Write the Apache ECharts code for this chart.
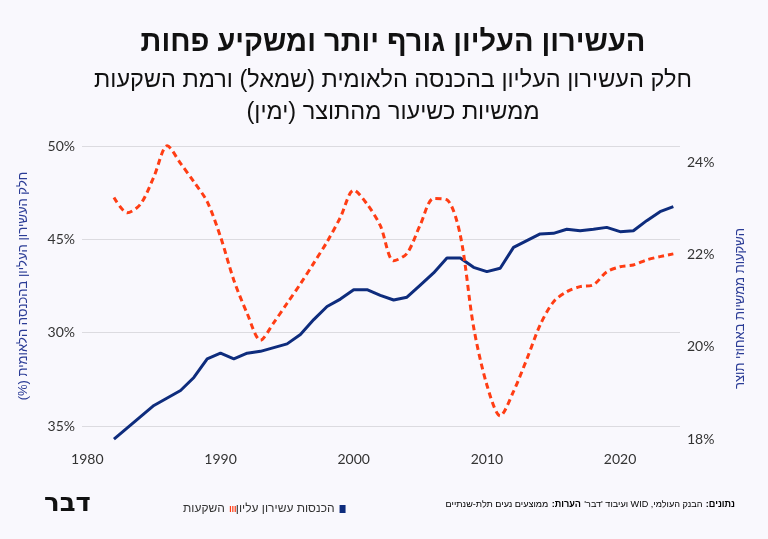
<!DOCTYPE html>
<html>
<head>
<meta charset="utf-8">
<script src="https://cdn.jsdelivr.net/npm/echarts@6/dist/echarts.min.js"></script>
<style>
html, body { margin: 0; padding: 0; background: #f9f8fd; }
#main { width: 768px; height: 539px; }
</style>
</head>
<body>
<div id="main" dir="rtl"></div>
<script>
// שנים
const years = [1982, 1983, 1984, 1985, 1986, 1987, 1988, 1989, 1990, 1991,
    1992, 1993, 1994, 1995, 1996, 1997, 1998, 1999, 2000, 2001,
    2002, 2003, 2004, 2005, 2006, 2007, 2008, 2009, 2010, 2011,
    2012, 2013, 2014, 2015, 2016, 2017, 2018, 2019, 2020, 2021,
    2022, 2023, 2024];
// חלק העשירון העליון בהכנסה (שמאל)
const topDecileShare = [34.3, 34.9, 35.5, 36.1, 36.5, 36.9, 37.6, 38.6, 38.9, 38.6,
    38.9, 39.0, 39.2, 39.4, 39.9, 40.7, 41.4, 41.8, 42.3, 42.3,
    42.0, 41.75, 41.9, 42.55, 43.2, 44.0, 44.0, 43.5, 43.27, 43.45,
    44.57, 44.93, 45.29, 45.32, 45.54, 45.46, 45.54, 45.64, 45.41, 45.46,
    46.0, 46.48, 46.75];
// השקעות באחוזי תוצר (ימין)
const investment = [23.23, 22.9, 23.09, 23.68, 24.35, 23.97, 23.57, 23.14, 22.38, 21.44,
    20.72, 20.14, 20.52, 20.94, 21.36, 21.81, 22.27, 22.8, 23.39, 23.09,
    22.62, 21.86, 22.02, 22.64, 23.21, 23.18, 22.42, 20.43, 19.17, 18.5,
    19.03, 19.73, 20.47, 20.97, 21.19, 21.3, 21.34, 21.62, 21.73, 21.77,
    21.88, 21.95, 22.01];
// תוויות הצירים כפי שמופיעות בגרף
const leftTickLabels = { 50: '50%', 45: '45%', 40: '30%', 35: '35%' };
const decadeTicks = [1980, 1990, 2000, 2010, 2020];

const hebFont = 'Liberation Sans, DejaVu Sans, sans-serif';
const numFont = 'Lato, Open Sans, sans-serif';
const blue = '#0e2c7d';
const orange = '#ff3d14';

const myChart = echarts.init(document.getElementById('main'));

const xBase = {
    type: 'value',
    min: 1979.6,
    max: 2024.5,
    axisLine: { show: false },
    axisTick: { show: false },
    splitLine: { show: false }
};
const hiddenY = {
    type: 'value',
    gridIndex: 2,
    axisLine: { show: false },
    axisTick: { show: false },
    axisLabel: { show: false },
    splitLine: { show: false }
};

const option = {
    backgroundColor: '#f9f8fd',
    title: {
        text: 'העשירון העליון גורף יותר ומשקיע פחות',
        subtext: 'חלק העשירון העליון בהכנסה הלאומית (שמאל) ורמת השקעות\nממשיות כשיעור מהתוצר (ימין)',
        left: 388,
        top: 23,
        textAlign: 'center',
        itemGap: 8,
        textStyle: { fontFamily: hebFont, fontSize: 29, fontWeight: 900, color: '#111' },
        subtextStyle: { fontFamily: hebFont, fontSize: 23.5, lineHeight: 32, color: '#111' }
    },
    legend: {
        left: 178,
        top: 498,
        align: 'right',
        itemGap: 0,
        itemWidth: 6,
        itemHeight: 8,
        textStyle: { fontFamily: hebFont, fontSize: 12, color: '#333' },
        data: [
            { name: 'השקעות', icon: 'path://M0,0H2V10H0Z M4,0H6V10H4Z M8,0H10V10H8Z' },
            { name: 'הכנסות עשירון עליון', icon: 'rect' }
        ]
    },
    // 0: רשת ציר שמאל, 1: רשת ציר ימין (מוזז מטה), 2: רשת הקווים (טווח מורחב)
    grid: [
        { left: 82, right: 88, top: 146, bottom: 113 },
        { left: 82, right: 88, top: 162, bottom: 100 },
        { left: 82, right: 88, top: 139, bottom: 93 }
    ],
    xAxis: [
        Object.assign({}, xBase, {
            gridIndex: 0,
            axisLabel: {
                customValues: decadeTicks,
                formatter: v => String(v),
                margin: 26,
                fontFamily: numFont,
                fontSize: 14,
                color: '#333'
            }
        }),
        Object.assign({}, xBase, { gridIndex: 1, axisLabel: { show: false } }),
        Object.assign({}, xBase, { gridIndex: 2, axisLabel: { show: false } })
    ],
    yAxis: [
        {
            type: 'value',
            gridIndex: 0,
            min: 35,
            max: 50,
            interval: 5,
            name: 'חלק העשירון העליון בהכנסה הלאומית (%)',
            nameLocation: 'middle',
            nameRotate: 90,
            nameGap: 52,
            nameTextStyle: { fontFamily: hebFont, fontSize: 13, color: '#2b3c96' },
            axisLine: { show: false },
            axisTick: { show: false },
            splitLine: { lineStyle: { color: '#dcdbe0', width: 1 } },
            axisLabel: {
                formatter: v => leftTickLabels[v],
                margin: 7,
                fontFamily: numFont,
                fontSize: 14,
                color: '#333'
            }
        },
        {
            type: 'value',
            gridIndex: 1,
            position: 'right',
            min: 18,
            max: 24,
            interval: 2,
            name: 'השקעות ממשיות באחוזי תוצר',
            nameLocation: 'middle',
            nameRotate: 90,
            nameGap: 54,
            nameTextStyle: { fontFamily: hebFont, fontSize: 13, color: '#2b3c96', padding: [0, 16, 0, 0] },
            axisLine: { show: false },
            axisTick: { show: false },
            splitLine: { show: false },
            axisLabel: {
                formatter: v => v + '%',
                margin: 7,
                fontFamily: numFont,
                fontSize: 14,
                color: '#333'
            }
        },
        // אותו קנה מידה כמו ציר שמאל, מורחב ל-139..446 פיקסלים
        Object.assign({}, hiddenY, { min: 33.929, max: 50.375 }),
        // אותו קנה מידה כמו ציר ימין
        Object.assign({}, hiddenY, { position: 'right', min: 17.848, max: 24.498 })
    ],
    series: [
        {
            name: 'הכנסות עשירון עליון',
            type: 'line',
            xAxisIndex: 2,
            yAxisIndex: 2,
            data: years.map((y, i) => [y, topDecileShare[i]]),
            showSymbol: false,
            itemStyle: { color: blue },
            lineStyle: { color: blue, width: 3 }
        },
        {
            name: 'השקעות',
            type: 'line',
            xAxisIndex: 2,
            yAxisIndex: 3,
            smooth: 0.3,
            data: years.map((y, i) => [y, investment[i]]),
            showSymbol: false,
            itemStyle: { color: orange },
            lineStyle: { color: orange, width: 3, type: [6, 4] }
        }
    ],
    graphic: [
        {
            type: 'text',
            left: 44,
            top: 491,
            style: {
                text: 'דבר',
                font: '900 26px DejaVu Sans, sans-serif',
                fill: '#111'
            }
        },
        {
            type: 'text',
            right: 33,
            top: 498,
            style: {
                text: '{n|ממוצעים נעים תלת-שנתיים} {b|הערות:} {n|הבנק העולמי, WID ועיבוד \'דבר\'} {b|נתונים:}',
                rich: {
                    n: { fontFamily: hebFont, fontSize: 9.1, color: '#333' },
                    b: { fontFamily: hebFont, fontSize: 9.1, fontWeight: 'bold', color: '#111' }
                }
            }
        }
    ]
};
myChart.setOption(option);
</script>
</body>
</html>
